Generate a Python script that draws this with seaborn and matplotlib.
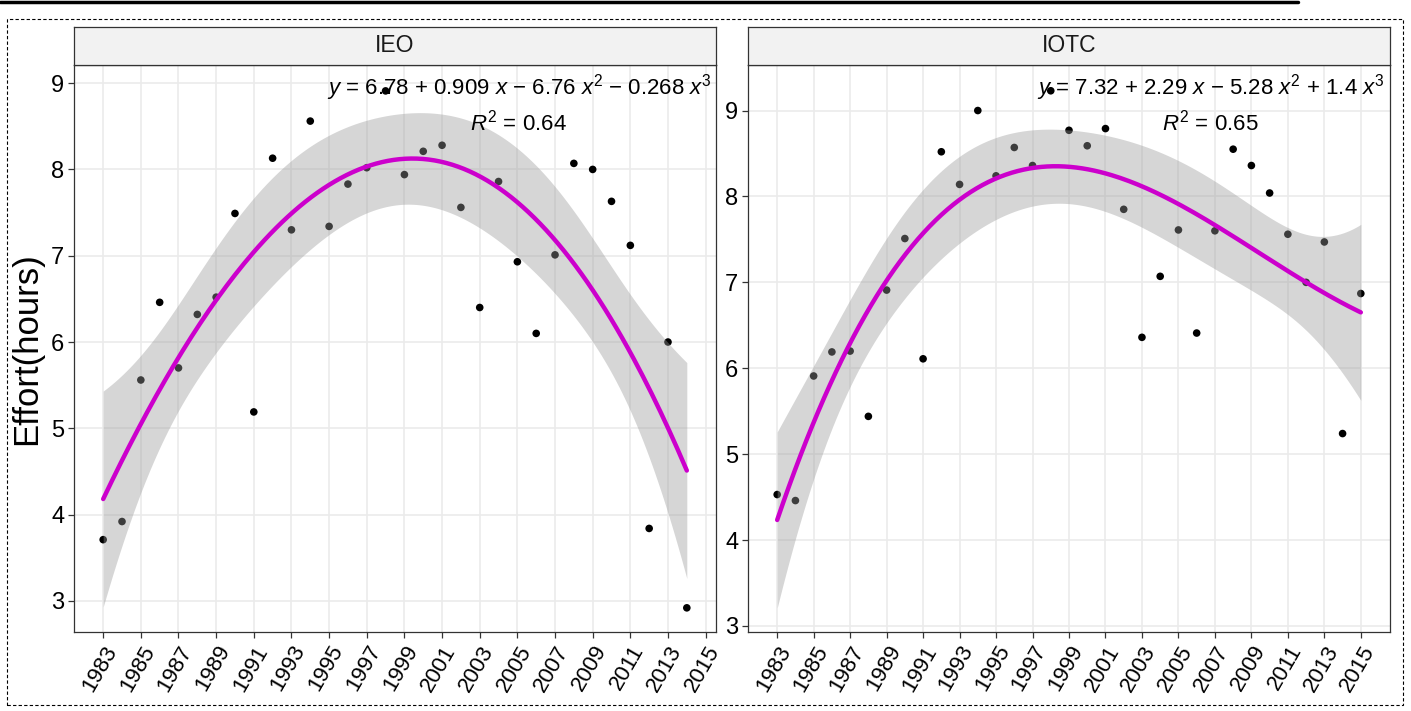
import numpy as np
import pandas as pd
import matplotlib
matplotlib.use("Agg")
import matplotlib.pyplot as plt
from matplotlib.lines import Line2D
from matplotlib.patches import Rectangle
import seaborn as sns

# ---------------- data ----------------
panels = ["IEO", "IOTC"]

ieo_years = list(range(1983, 2015))
ieo_effort = [3.71, 3.92, 5.56, 6.46, 5.70, 6.32, 6.52, 7.49, 5.19, 8.13,
              7.30, 8.56, 7.34, 7.83, 8.02, 8.91, 7.94, 8.21, 8.28, 7.56,
              6.40, 7.86, 6.93, 6.10, 7.01, 8.07, 8.00, 7.63, 7.12, 3.84,
              6.00, 2.92]

iotc_years = list(range(1983, 2016))
iotc_effort = [4.53, 4.46, 5.91, 6.19, 6.20, 5.44, 6.91, 7.51, 6.11, 8.52,
               8.14, 9.00, 8.24, 8.57, 8.36, 9.23, 8.77, 8.59, 8.79, 7.85,
               6.36, 7.07, 7.61, 6.41, 7.60, 8.55, 8.36, 8.04, 7.56, 7.00,
               7.47, 5.24, 6.87]

equations = [r"$y$ = 6.78 + 0.909 $x$ $-$ 6.76 $x^2$ $-$ 0.268 $x^3$",
             r"$y$ = 7.32 + 2.29 $x$ $-$ 5.28 $x^2$ + 1.4 $x^3$"]
r2_labels = [r"$R^2$ = 0.64", r"$R^2$ = 0.65"]
x_ticks = list(range(1983, 2016, 2))
y_ticks = [3, 4, 5, 6, 7, 8, 9]

# t quantiles (0.975) for residual degrees of freedom
t975 = {28: 2.0484, 29: 2.0452}

# ---------------- style ----------------
sns.set_theme(style="white")
plt.rcParams["font.family"] = ["Liberation Sans", "DejaVu Sans"]
plt.rcParams["mathtext.fontset"] = "custom"
plt.rcParams["mathtext.rm"] = "Liberation Sans"
plt.rcParams["mathtext.it"] = "Liberation Sans:style=italic"
plt.rcParams["mathtext.default"] = "it"

fig = plt.figure(figsize=(14.11, 7.11), dpi=100)
W, H = 1411, 711


def fbox(x0, y0, x1, y1):
    return [x0 / W, 1 - y1 / H, (x1 - x0) / W, (y1 - y0) / H]


panel_px = [(74, 65, 716, 632), (748, 65, 1390, 632)]
xlims = [(1981.45, 2015.55), (1981.4, 2016.6)]
ylims = [(2.64, 9.21), (2.93, 9.53)]
eq_x = [0.994, 0.992]
r2_x = [0.692, 0.72]

datasets = [(ieo_years, ieo_effort), (iotc_years, iotc_effort)]


def poly_fit(xv, yv, ngrid=200):
    xv = np.asarray(xv, float)
    yv = np.asarray(yv, float)
    mu, sd = xv.mean(), xv.std()
    t = (xv - mu) / sd
    X = np.vander(t, 4, increasing=True)
    beta, *_ = np.linalg.lstsq(X, yv, rcond=None)
    resid = yv - X @ beta
    dof = len(xv) - 4
    s2 = resid @ resid / dof
    cov = s2 * np.linalg.inv(X.T @ X)
    xg = np.linspace(xv.min(), xv.max(), ngrid)
    Xg = np.vander((xg - mu) / sd, 4, increasing=True)
    yhat = Xg @ beta
    se = np.sqrt(np.einsum("ij,jk,ik->i", Xg, cov, Xg))
    tq = t975.get(dof, 2.05)
    return xg, yhat, yhat - tq * se, yhat + tq * se


for i, name in enumerate(panels):
    x0, y0, x1, y1 = panel_px[i]
    ax = fig.add_axes(fbox(x0, y0, x1, y1))
    xs, ys = datasets[i]
    df = pd.DataFrame({"year": xs, "effort": ys})

    sns.scatterplot(data=df, x="year", y="effort", ax=ax, color="black",
                    s=30, edgecolor="none", zorder=3)
    xg, yhat, lo, hi = poly_fit(xs, ys)
    ax.fill_between(xg, lo, hi, color="#999999", alpha=0.4, linewidth=0,
                    zorder=4)
    sns.lineplot(x=xg, y=yhat, ax=ax, color="#CC00CC", linewidth=3.2,
                 zorder=5)

    ax.set_xlim(*xlims[i])
    ax.set_ylim(*ylims[i])
    ax.set_xticks(x_ticks)
    ax.set_yticks(y_ticks)
    ax.set_xticklabels([str(v) for v in x_ticks], rotation=60, ha="right",
                       va="top", rotation_mode="anchor", fontsize=16,
                       color="black")
    ax.set_yticklabels([str(v) for v in y_ticks], fontsize=17, color="black")
    ax.tick_params(axis="both", which="major", length=4, width=0.9,
                   color="#333333", direction="out", bottom=True, left=True,
                   pad=3)
    ax.grid(True, color="#EBEBEB", linewidth=1.2, zorder=0)
    ax.set_axisbelow(True)
    for sp in ax.spines.values():
        sp.set_visible(True)
        sp.set_color("#333333")
        sp.set_linewidth(0.9)
    ax.set_xlabel("")
    ax.set_ylabel("Effort(hours)" if i == 0 else "", fontsize=25,
                  color="black", labelpad=6)

    ax.text(eq_x[i], 0.961, equations[i], transform=ax.transAxes,
            ha="right", va="center", fontsize=16, color="black", zorder=6)
    ax.text(r2_x[i], 0.899, r2_labels[i], transform=ax.transAxes,
            ha="center", va="center", fontsize=16, color="black", zorder=6)

    # strip
    sax = fig.add_axes(fbox(x0, 27, x1, 65))
    sax.set_xticks([])
    sax.set_yticks([])
    sax.set_facecolor("#F2F2F2")
    for sp in sax.spines.values():
        sp.set_visible(True)
        sp.set_color("#333333")
        sp.set_linewidth(0.9)
    sax.text(0.5, 0.5, name, ha="center", va="center", fontsize=16.5,
             color="#1A1A1A", transform=sax.transAxes)

# decorations: top rule and dashed frame
fig.add_artist(Line2D([0, 1298 / W], [1 - 1.5 / H, 1 - 1.5 / H],
                      color="black", linewidth=2.5,
                      transform=fig.transFigure))
fig.add_artist(Rectangle((7 / W, 1 - 705 / H), (1403 - 7) / W,
                         (705 - 19) / H, fill=False, edgecolor="black",
                         linestyle=(0, (3, 2)), linewidth=0.8,
                         transform=fig.transFigure))

fig.savefig("out.png", dpi=100)
